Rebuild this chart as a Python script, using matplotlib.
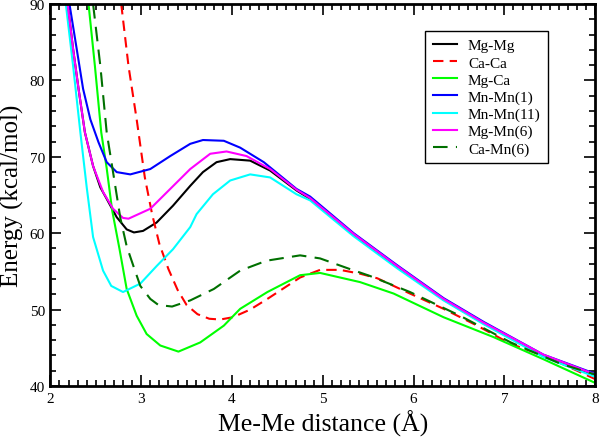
import numpy as np
import matplotlib
matplotlib.use('Agg')
import matplotlib.pyplot as plt
from matplotlib.ticker import MultipleLocator

plt.rcParams['font.family'] = ['Liberation Serif', 'DejaVu Serif']

# данные (x - расстояние, y - энергия)
mgmg_x = [2.19, 2.25, 2.31, 2.38, 2.47, 2.55, 2.62, 2.73, 2.84, 2.92, 3.02, 3.17, 3.35, 3.54, 3.68, 3.83,
          3.98, 4.20, 4.42, 4.71, 4.86, 5.34, 5.82, 6.33, 6.77, 7.43, 8.0]
mgmg_y = [90, 84.1, 78.9, 73.2, 68.8, 66.0, 64.5, 62.1, 60.5, 60.1, 60.3, 61.4, 63.6, 66.2, 68.0, 69.3,
          69.7, 69.5, 68.2, 65.6, 64.5, 59.8, 55.6, 51.3, 48.2, 43.9, 41.4]

caca_x = [2.78, 2.86, 2.95, 3.04, 3.12, 3.20, 3.30, 3.40, 3.50, 3.62, 3.75, 3.87, 4.01, 4.20, 4.39, 4.75,
          4.97, 5.19, 5.41, 5.60, 5.96, 6.33, 6.70, 7.07, 7.43, 7.80, 8.0]
caca_y = [90, 81.9, 74.9, 67.3, 62.5, 58.6, 55.3, 52.6, 50.6, 49.4, 48.8, 48.7, 49.0, 50.0, 51.4, 54.2,
          55.2, 55.2, 54.7, 54.1, 52.1, 50.1, 47.9, 45.5, 44.0, 42.0, 40.9]

mgca_x = [2.42, 2.49, 2.56, 2.62, 2.68, 2.76, 2.84, 2.95, 3.06, 3.21, 3.41, 3.65, 3.91, 4.09, 4.39, 4.75,
          4.97, 5.41, 5.78, 6.33, 6.88, 7.43, 8.0]
mgca_y = [90, 81.9, 73.2, 68.5, 63.0, 58.0, 52.7, 49.2, 46.8, 45.3, 44.5, 45.7, 47.9, 50.1, 52.3, 54.5,
          54.8, 53.6, 52.1, 49.0, 46.4, 43.5, 40.4]

mnmn1_x = [2.21, 2.29, 2.36, 2.44, 2.53, 2.62, 2.73, 2.88, 3.10, 3.32, 3.54, 3.68, 3.91, 4.09, 4.35, 4.71,
           4.86, 5.34, 5.82, 6.33, 6.77, 7.43, 8.0]
mnmn1_y = [90, 84.1, 78.9, 74.9, 71.9, 69.3, 68.0, 67.7, 68.4, 70.1, 71.7, 72.2, 72.1, 71.2, 69.3, 65.8,
           64.8, 60.0, 55.8, 51.5, 48.4, 44.1, 41.6]

mnmn11_x = [2.17, 2.25, 2.33, 2.40, 2.47, 2.58, 2.67, 2.80, 2.99, 3.17, 3.35, 3.54, 3.61, 3.79, 3.98, 4.20,
            4.42, 4.71, 4.86, 5.34, 5.82, 6.33, 6.77, 7.43, 8.0]
mnmn11_y = [90, 81.9, 73.2, 66.0, 59.5, 55.1, 53.1, 52.3, 53.4, 55.7, 57.9, 60.8, 62.5, 65.1, 66.9, 67.7,
            67.3, 65.1, 64.3, 59.6, 55.4, 51.2, 48.1, 43.8, 41.2]

mgmn6_x = [2.19, 2.25, 2.31, 2.38, 2.47, 2.58, 2.69, 2.80, 2.86, 3.10, 3.32, 3.54, 3.76, 3.94, 4.16, 4.42,
           4.71, 4.86, 5.34, 5.82, 6.33, 6.77, 7.43, 8.0]
mgmn6_y = [90, 84.1, 78.9, 73.2, 68.8, 65.4, 63.2, 62.0, 61.9, 63.2, 65.8, 68.4, 70.4, 70.7, 70.1, 68.4,
           65.7, 64.6, 59.9, 55.7, 51.4, 48.3, 44.1, 41.5]

camn6_x = [2.47, 2.55, 2.62, 2.69, 2.77, 2.84, 2.92, 2.99, 3.10, 3.19, 3.34, 3.54, 3.80, 4.09, 4.38, 4.75,
           4.97, 5.30, 5.52, 5.96, 6.51, 7.07, 7.62, 8.0]
camn6_y = [90, 81.9, 73.2, 68.0, 62.0, 58.3, 55.5, 53.1, 51.4, 50.6, 50.4, 51.2, 52.7, 55.1, 56.4, 57.1,
           56.7, 55.3, 54.4, 52.3, 49.2, 45.7, 42.9, 41.5]

fig = plt.figure(figsize=(6.0, 4.39), dpi=100)
ax = fig.add_axes([0.084, 0.1185, 0.908, 0.870])

lw = 1.5
ax.plot(mgmg_x, mgmg_y, color='black', lw=lw, label='Mg-Mg')
ax.plot(caca_x, caca_y, color='#ff0000', lw=lw, dashes=(5, 3), label='Ca-Ca')
ax.plot(mgca_x, mgca_y, color='#00ff00', lw=lw, label='Mg-Ca')
ax.plot(mnmn1_x, mnmn1_y, color='#0000ff', lw=lw, label='Mn-Mn(1)')
ax.plot(mnmn11_x, mnmn11_y, color='#00ffff', lw=lw, label='Mn-Mn(11)')
ax.plot(mgmn6_x, mgmn6_y, color='#ff00ff', lw=lw, label='Mg-Mn(6)')
ax.plot(camn6_x, camn6_y, color='#007000', lw=lw, dashes=(7, 4), label='Ca-Mn(6)')

ax.set_xlim(2, 8)
ax.set_ylim(40, 90)
ax.xaxis.set_major_locator(MultipleLocator(1))
ax.xaxis.set_minor_locator(MultipleLocator(0.1))
ax.yaxis.set_major_locator(MultipleLocator(10))
ax.yaxis.set_minor_locator(MultipleLocator(2))
ax.tick_params(which='both', direction='in', top=True, right=True, width=1.2, labelsize=11)
ax.tick_params(which='major', length=8, pad=4)
ax.tick_params(which='minor', length=4)
for s in ax.spines.values():
    s.set_linewidth(2)

ax.set_xlabel('Me-Me distance (Å)', fontsize=18.5, labelpad=4)
ax.set_ylabel('Energy (kcal/mol)', fontsize=18)
ax.yaxis.set_label_coords(-0.048, 0.5)

leg = ax.legend(loc='upper right', bbox_to_anchor=(0.914, 0.929), fontsize=11, frameon=True,
                fancybox=False, edgecolor='black', framealpha=1, borderaxespad=0,
                handlelength=1.6, handletextpad=0.7, labelspacing=0.22, borderpad=0.5)
leg.get_frame().set_linewidth(1.0)

plt.savefig('out.png', dpi=100)
